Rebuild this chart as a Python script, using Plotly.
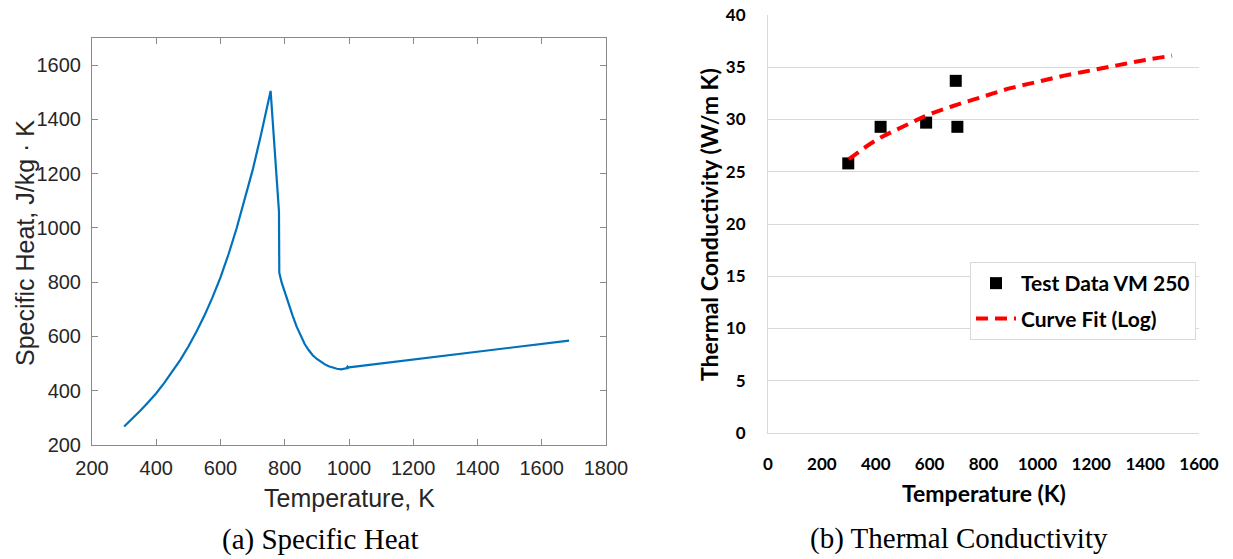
import plotly.graph_objects as go

W, H = 1233, 559

# (a) Specific heat vs temperature
temp_a = [300, 325, 350, 375, 400, 425, 450, 475, 500, 525, 550, 575, 600, 625,
          650, 675, 700, 725, 756, 782, 783, 790, 800, 812, 825, 837, 850, 862,
          875, 887, 900, 912, 925, 937, 950, 962, 975, 985, 992, 995, 997, 1000,
          1685]
cp_a = [268, 296, 326, 358, 391, 429, 470, 514, 563, 617, 677, 744, 818, 903,
        998, 1102, 1213, 1338, 1505, 1060, 835, 800, 762, 718, 675, 636, 600, 572,
        549, 531, 517, 506, 497, 490, 485, 481, 479, 480, 483, 488, 484, 486,
        585]

# (b) Thermal conductivity: test data and logarithmic fit
temp_test = [298, 418, 587, 697, 703]
k_test = [25.8, 29.3, 29.7, 33.7, 29.3]
temp_fit = [300, 400, 500, 600, 700, 800, 900, 1000, 1100, 1200, 1300, 1400, 1500]
k_fit = [26.2, 28.0, 29.3, 30.5, 31.4, 32.2, 33.0, 33.6, 34.2, 34.7, 35.2, 35.7, 36.1]

xticks_a = [200, 400, 600, 800, 1000, 1200, 1400, 1600, 1800]
yticks_a = [200, 400, 600, 800, 1000, 1200, 1400, 1600]
xticks_b = [0, 200, 400, 600, 800, 1000, 1200, 1400, 1600]
yticks_b = [0, 5, 10, 15, 20, 25, 30, 35, 40]


def px_x(p):
    return p / W


def px_y(p):
    return 1 - p / H


fig = go.Figure()

fig.add_trace(go.Scatter(
    x=temp_a, y=cp_a, mode="lines",
    line=dict(color="#0072BD", width=2.2),
    xaxis="x", yaxis="y", showlegend=False,
))

fig.add_trace(go.Scatter(
    x=temp_test, y=k_test, mode="markers", name="Test Data VM 250",
    marker=dict(symbol="square", size=12, color="black"),
    xaxis="x2", yaxis="y2", legendgroup="data",
))
fig.add_trace(go.Scatter(
    x=temp_fit, y=k_fit, mode="lines", name="Curve Fit (Log)",
    line=dict(color="#FF0000", width=4, dash="12px,7px", shape="spline"),
    xaxis="x2", yaxis="y2", legendgroup="fit",
))

matlab_font = dict(family="Liberation Sans, Arial", size=20, color="#262626")
excel_font = dict(family="Lato, Open Sans", size=17, color="#000000", weight="bold")

fig.update_layout(
    width=W, height=H, autosize=False,
    margin=dict(l=0, r=0, t=0, b=0, pad=0, autoexpand=False),
    paper_bgcolor="white", plot_bgcolor="white",
    xaxis=dict(
        domain=[px_x(92), px_x(606)], range=[200, 1800],
        tickvals=xticks_a, ticks="inside", ticklen=6, tickcolor="#8a8a8a",
        showline=True, linecolor="#8a8a8a", linewidth=1, mirror="ticks",
        showgrid=False, zeroline=False, tickfont=matlab_font,
        ticklabelstandoff=5, anchor="y", automargin=False,
    ),
    yaxis=dict(
        domain=[px_y(445), px_y(38)], range=[200, 1700],
        tickvals=yticks_a, ticks="inside", ticklen=6, tickcolor="#8a8a8a",
        showline=True, linecolor="#8a8a8a", linewidth=1, mirror="ticks",
        showgrid=False, zeroline=False, tickfont=matlab_font,
        ticklabelstandoff=6, anchor="x", automargin=False,
    ),
    xaxis2=dict(
        domain=[px_x(768), px_x(1199)], range=[0, 1600],
        tickvals=xticks_b, ticks="", showline=True, linecolor="#d9d9d9",
        showgrid=False, zeroline=False, tickfont=excel_font,
        ticklabelstandoff=16, anchor="y2", automargin=False,
    ),
    yaxis2=dict(
        domain=[px_y(433), px_y(15)], range=[0, 40],
        tickvals=yticks_b, ticks="", showline=True, linecolor="#d9d9d9",
        showgrid=True, gridcolor="#d9d9d9", gridwidth=1, zeroline=False,
        tickfont=excel_font, ticklabelstandoff=18, anchor="x2", automargin=False,
    ),
    legend=dict(
        x=px_x(970), y=px_y(262), xanchor="left", yanchor="top",
        bgcolor="white", bordercolor="#d9d9d9", borderwidth=1,
        font=dict(family="Lato, Open Sans", size=21, color="#000000", weight="bold"),
        itemwidth=40, tracegroupgap=5,
    ),
    showlegend=True,
)

annotations = [
    # axis titles of (a)
    dict(text="Temperature, K", x=px_x(349), y=px_y(498), xref="paper", yref="paper",
         showarrow=False, font=dict(family="Liberation Sans, Arial", size=25, color="#262626"),
         xanchor="center", yanchor="middle"),
    dict(text="Specific Heat, J/kg · K", x=px_x(25), y=px_y(243), xref="paper", yref="paper",
         showarrow=False, textangle=-90,
         font=dict(family="Liberation Sans, Arial", size=25, color="#262626"),
         xanchor="center", yanchor="middle"),
    # axis titles of (b)
    dict(text="Temperature (K)", x=px_x(984), y=px_y(493), xref="paper", yref="paper",
         showarrow=False, font=dict(family="Lato, Open Sans", size=23, color="#000000", weight="bold"),
         xanchor="center", yanchor="middle"),
    dict(text="Thermal Conductivity (W/m K)", x=px_x(709), y=px_y(225), xref="paper", yref="paper",
         showarrow=False, textangle=-90,
         font=dict(family="Lato, Open Sans", size=23, color="#000000", weight="bold"),
         xanchor="center", yanchor="middle"),
    # sub-figure captions
    dict(text="(a) Specific Heat", x=px_x(320), y=px_y(539), xref="paper", yref="paper",
         showarrow=False, font=dict(family="Liberation Serif, Times New Roman", size=29, color="#000000"),
         xanchor="center", yanchor="middle"),
    dict(text="(b) Thermal Conductivity", x=px_x(959), y=px_y(538), xref="paper", yref="paper",
         showarrow=False, font=dict(family="Liberation Serif, Times New Roman", size=29, color="#000000"),
         xanchor="center", yanchor="middle"),
]
fig.update_layout(annotations=annotations)

fig.write_html("out.html")
